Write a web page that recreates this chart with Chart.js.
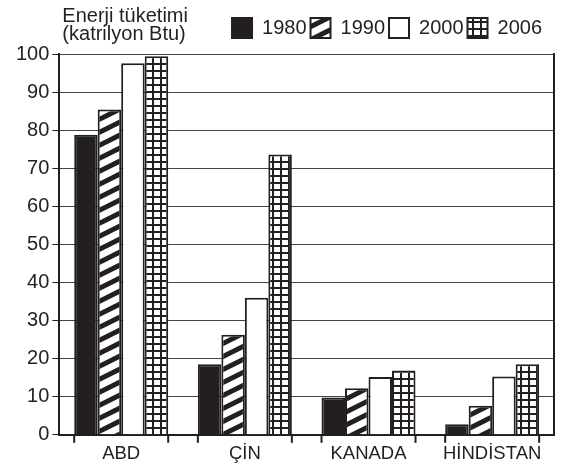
<!DOCTYPE html>
<html>
<head>
<meta charset="utf-8">
<script src="https://cdn.jsdelivr.net/npm/chart.js"></script>
<style>
  body { margin: 0; background: #fff; }
</style>
</head>
<body>
<canvas id="myChart" width="566" height="469"></canvas>

<script>
    const countries = ['ABD', 'ÇİN', 'KANADA', 'HİNDİSTAN'];
    const years = ['1980', '1990', '2000', '2006'];
    const v1980 = [78.8, 18.5, 9.8, 2.8];
    const v1990 = [85.4, 26.3, 12.2, 7.6];
    const v2000 = [97.6, 36.0, 15.2, 15.3];
    const v2006 = [99.4, 73.6, 16.9, 18.5];
    const titleLines = ['Enerji tüketimi', '(katrilyon Btu)'];

    const ink = '#231f20';
    Chart.defaults.font.family = '"Liberation Sans", Arial, sans-serif';

    // diagonal hatch for 1990
    function stripes() {
        const c = document.createElement('canvas');
        c.width = 26; c.height = 13;
        const g = c.getContext('2d');
        g.fillStyle = '#fff';
        g.fillRect(0, 0, 26, 13);
        g.strokeStyle = ink;
        g.lineWidth = 5;
        for (const dy of [-13, 0, 13]) {
            g.beginPath();
            g.moveTo(-2, 14 + dy);
            g.lineTo(28, -1 + dy);
            g.stroke();
        }
        return g.createPattern(c, 'repeat');
    }

    // small squares for 2006
    function squares() {
        const c = document.createElement('canvas');
        c.width = 8; c.height = 7;
        const g = c.getContext('2d');
        g.fillStyle = '#fff';
        g.fillRect(0, 0, 8, 7);
        g.fillStyle = ink;
        g.fillRect(0, 0, 8, 2);
        g.fillRect(0, 0, 2, 7);
        return g.createPattern(c, 'repeat');
    }

    const fills = [ink, stripes(), '#fff', squares()];
    const values = [v1980, v1990, v2000, v2006];

    const data = {
        labels: countries,
        datasets: years.map((y, i) => ({
            label: y,
            data: values[i],
            backgroundColor: fills[i],
            borderColor: ink,
            borderWidth: 2,
            categoryPercentage: 0.76,
            barPercentage: 1.0,
        }))
    };

    // more room under the legend, and pull it a bit off the right edge
    const legendRoom = {
        id: 'legendRoom',
        beforeInit(chart) {
            const fit = chart.legend.fit;
            chart.legend.fit = function () {
                fit.bind(chart.legend)();
                this.height += 6;
                this.lineWidths[0] += 16;
            };
        }
    };

    // little tick marks at both edges of each group
    const groupTicks = {
        id: 'groupTicks',
        afterDatasetsDraw(chart) {
            const ctx = chart.ctx;
            const xs = chart.scales.x;
            const first = chart.getDatasetMeta(0).data;
            const last = chart.getDatasetMeta(years.length - 1).data;
            ctx.save();
            ctx.strokeStyle = ink;
            ctx.lineWidth = 2;
            first.forEach((bar, i) => {
                const l = bar.x - bar.width / 2;
                const r = last[i].x + last[i].width / 2;
                [l, r].forEach(px => {
                    ctx.beginPath();
                    ctx.moveTo(px, xs.top);
                    ctx.lineTo(px, xs.top + 8);
                    ctx.stroke();
                });
            });
            ctx.restore();
        }
    };

    const axisTitle = {
        id: 'axisTitle',
        afterDraw(chart) {
            const ctx = chart.ctx;
            ctx.save();
            ctx.font = '20px "Liberation Sans", Arial, sans-serif';
            ctx.fillStyle = ink;
            ctx.textBaseline = 'alphabetic';
            titleLines.forEach((t, i) => ctx.fillText(t, chart.chartArea.left + 3, 22 + i * 18));
            ctx.restore();
        }
    };

    const config = {
        type: 'bar',
        data: data,
        plugins: [legendRoom, groupTicks, axisTitle],
        options: {
            responsive: false,
            animation: false,
            layout: { padding: { left: 13, right: 4, top: 14, bottom: 0 } },
            plugins: {
                legend: {
                    align: 'end',
                    labels: {
                        boxWidth: 20,
                        boxHeight: 20,
                        padding: 4,
                        color: ink,
                        font: { size: 20 },
                    }
                },
                tooltip: { enabled: false },
            },
            scales: {
                x: {
                    grid: { display: false, drawTicks: false },
                    border: { color: ink, width: 2 },
                    ticks: { color: ink, font: { size: 18.5 }, padding: 8 },
                    afterFit: s => { s.height -= 4; },
                },
                y: {
                    min: 0,
                    max: 100,
                    ticks: { stepSize: 10, color: ink, font: { size: 20 }, padding: 3 },
                    grid: { color: '#444', lineWidth: 1, tickLength: 7, tickColor: ink },
                    border: { color: ink, width: 2 },
                },
                y2: {
                    position: 'right',
                    grid: { display: false },
                    ticks: { display: false },
                    border: { color: ink, width: 2 },
                },
            },
        }
    };

    const myChart = new Chart(document.getElementById('myChart'), config);
</script>
</body>
</html>
